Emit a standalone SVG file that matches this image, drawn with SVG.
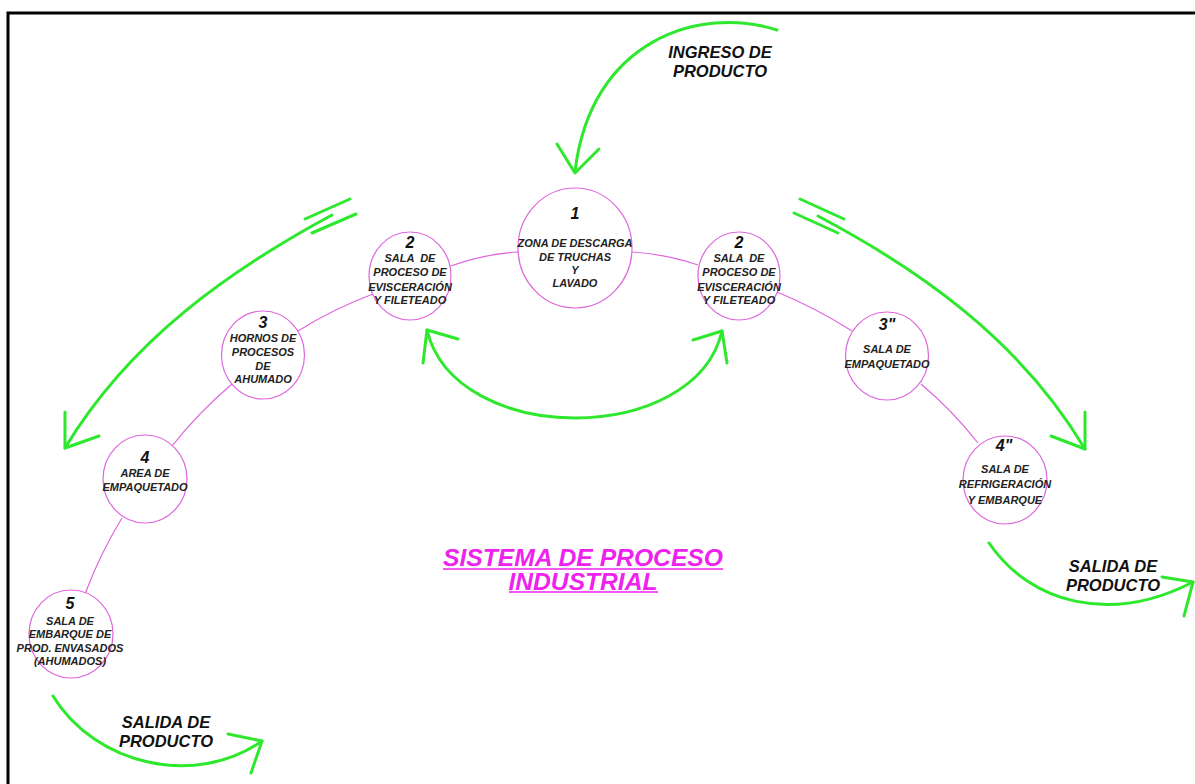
<svg xmlns="http://www.w3.org/2000/svg" width="1195" height="784" viewBox="0 0 1195 784">
  <style>
    .node { fill: #ffffff; stroke: #dd66dd; stroke-width: 1.2; }
    .link { fill: none; stroke: #dd66dd; stroke-width: 1.2; }
    .flow { fill: none; stroke: #2ee82e; stroke-width: 3; stroke-linecap: round; stroke-linejoin: round; }
    .num { font-family: "Liberation Sans", Arial, sans-serif; font-weight: bold; font-style: italic; font-size: 16px; fill: #111; text-anchor: middle; }
    .lbl { font-family: "Liberation Sans", Arial, sans-serif; font-weight: bold; font-style: italic; font-size: 11px; fill: #222; text-anchor: middle; white-space: pre; }
    .big { font-family: "Liberation Sans", Arial, sans-serif; font-weight: bold; font-style: italic; font-size: 16.5px; fill: #111; text-anchor: middle; }
    .title { font-family: "Liberation Sans", Arial, sans-serif; font-weight: bold; font-style: italic; font-size: 23px; fill: #ee22ee; text-anchor: middle; }
    .uline { stroke: #ee22ee; stroke-width: 1.6; }
  </style>

  <rect x="0" y="0" width="1195" height="784" fill="#ffffff"/>
  <!-- sheet frame -->
  <path d="M8,784 V13 H1195" fill="none" stroke="#000" stroke-width="3"/>

  <!-- connectors: station links and product flow arrows -->
  <g id="connectors">
    <path class="link" d="M451,266 Q484,254 518,252"/>
    <path class="link" d="M632,252 Q666,254 698,265"/>
    <path class="link" d="M373,294 Q333,309 298,331"/>
    <path class="link" d="M232,384 Q199,412 172,446"/>
    <path class="link" d="M122,518 Q100,554 85,594"/>
    <path class="link" d="M777,292 Q816,308 852,331"/>
    <path class="link" d="M921,384 Q952,410 978,443"/>

    <!-- product intake -->
    <path class="flow" d="M777,30 C700,5 590,40 575,172"/>
    <polyline class="flow" points="557,144 575,173 599,149"/>

    <!-- left branch -->
    <path class="flow" d="M332,215 C230,270 130,340 65,448"/>
    <line class="flow" x1="305" y1="219" x2="350" y2="199"/>
    <line class="flow" x1="312" y1="233" x2="356" y2="214"/>
    <polyline class="flow" points="65,412 65,448 99,436"/>

    <!-- right branch -->
    <path class="flow" d="M818,216 C920,270 1020,340 1085,449"/>
    <line class="flow" x1="800" y1="199" x2="844" y2="219"/>
    <line class="flow" x1="794" y1="213" x2="838" y2="233"/>
    <polyline class="flow" points="1085,412 1085,449 1051,436"/>

    <!-- exchange between both processing rooms -->
    <path class="flow" d="M427,330 C455,447 695,447 722,331"/>
    <polyline class="flow" points="458,339 427,330 423,363"/>
    <polyline class="flow" points="693,340 722,331 727,363"/>

    <!-- product outputs -->
    <path class="flow" d="M53,696 C95,765 195,788 262,741"/>
    <polyline class="flow" points="228,734 262,741 251,773"/>
    <path class="flow" d="M989,543 C1030,603 1110,625 1193,582"/>
    <polyline class="flow" points="1162,577 1193,582 1184,616"/>
  </g>

  <g id="label-ingreso">
    <text class="big" x="720" y="58">INGRESO DE</text>
    <text class="big" x="720" y="77">PRODUCTO</text>
  </g>
  <g id="label-salida-1">
    <text class="big" x="166" y="728">SALIDA DE</text>
    <text class="big" x="166" y="747">PRODUCTO</text>
  </g>
  <g id="label-salida-2">
    <text class="big" x="1113" y="572">SALIDA DE</text>
    <text class="big" x="1113" y="591">PRODUCTO</text>
  </g>

  <g id="node-1">
    <ellipse class="node" cx="575" cy="248" rx="57" ry="60"/>
    <text class="num" x="575" y="219">1</text>
    <text class="lbl" x="575" y="247">ZONA DE DESCARGA</text>
    <text class="lbl" x="575" y="261">DE TRUCHAS</text>
    <text class="lbl" x="575" y="274">Y</text>
    <text class="lbl" x="575" y="287">LAVADO</text>
  </g>

  <g id="node-2-left">
    <ellipse class="node" cx="410" cy="276" rx="41" ry="44"/>
    <text class="num" x="410" y="248">2</text>
    <text class="lbl" x="410" y="262" xml:space="preserve">SALA  DE</text>
    <text class="lbl" x="410" y="276">PROCESO DE</text>
    <text class="lbl" x="410" y="291">EVISCERACIÓN</text>
    <text class="lbl" x="410" y="304">Y FILETEADO</text>
  </g>

  <g id="node-2-right">
    <ellipse class="node" cx="739" cy="276" rx="41" ry="44"/>
    <text class="num" x="739" y="248">2</text>
    <text class="lbl" x="739" y="262" xml:space="preserve">SALA  DE</text>
    <text class="lbl" x="739" y="276">PROCESO DE</text>
    <text class="lbl" x="739" y="291">EVISCERACIÓN</text>
    <text class="lbl" x="739" y="304">Y FILETEADO</text>
  </g>

  <g id="node-3">
    <ellipse class="node" cx="263" cy="355" rx="41.5" ry="44"/>
    <text class="num" x="263" y="328">3</text>
    <text class="lbl" x="263" y="342">HORNOS DE</text>
    <text class="lbl" x="263" y="356">PROCESOS</text>
    <text class="lbl" x="263" y="370">DE</text>
    <text class="lbl" x="263" y="383">AHUMADO</text>
  </g>

  <g id="node-3b">
    <ellipse class="node" cx="887" cy="356" rx="41.5" ry="44"/>
    <text class="num" x="887" y="330">3"</text>
    <text class="lbl" x="887" y="353">SALA DE</text>
    <text class="lbl" x="887" y="368">EMPAQUETADO</text>
  </g>

  <g id="node-4">
    <ellipse class="node" cx="145" cy="479" rx="42" ry="44"/>
    <text class="num" x="145" y="463">4</text>
    <text class="lbl" x="145" y="477">AREA DE</text>
    <text class="lbl" x="145" y="491">EMPAQUETADO</text>
  </g>

  <g id="node-4b">
    <ellipse class="node" cx="1005" cy="480" rx="42" ry="44"/>
    <text class="num" x="1004" y="451">4"</text>
    <text class="lbl" x="1005" y="473">SALA DE</text>
    <text class="lbl" x="1005" y="488">REFRIGERACIÓN</text>
    <text class="lbl" x="1005" y="504">Y EMBARQUE</text>
  </g>

  <g id="node-5">
    <ellipse class="node" cx="71" cy="634" rx="42" ry="44"/>
    <text class="num" x="70" y="609">5</text>
    <text class="lbl" x="70" y="625">SALA DE</text>
    <text class="lbl" x="70" y="638">EMBARQUE DE</text>
    <text class="lbl" x="70" y="652">PROD. ENVASADOS</text>
    <text class="lbl" x="70" y="665">(AHUMADOS)</text>
  </g>

  <g id="title">
    <text class="title" x="583" y="566" textLength="280" lengthAdjust="spacingAndGlyphs">SISTEMA DE PROCESO</text>
    <line class="uline" x1="443" y1="569" x2="723" y2="569"/>
    <text class="title" x="583" y="590" textLength="149" lengthAdjust="spacingAndGlyphs">INDUSTRIAL</text>
    <line class="uline" x1="509" y1="592" x2="658" y2="592"/>
  </g>
</svg>
